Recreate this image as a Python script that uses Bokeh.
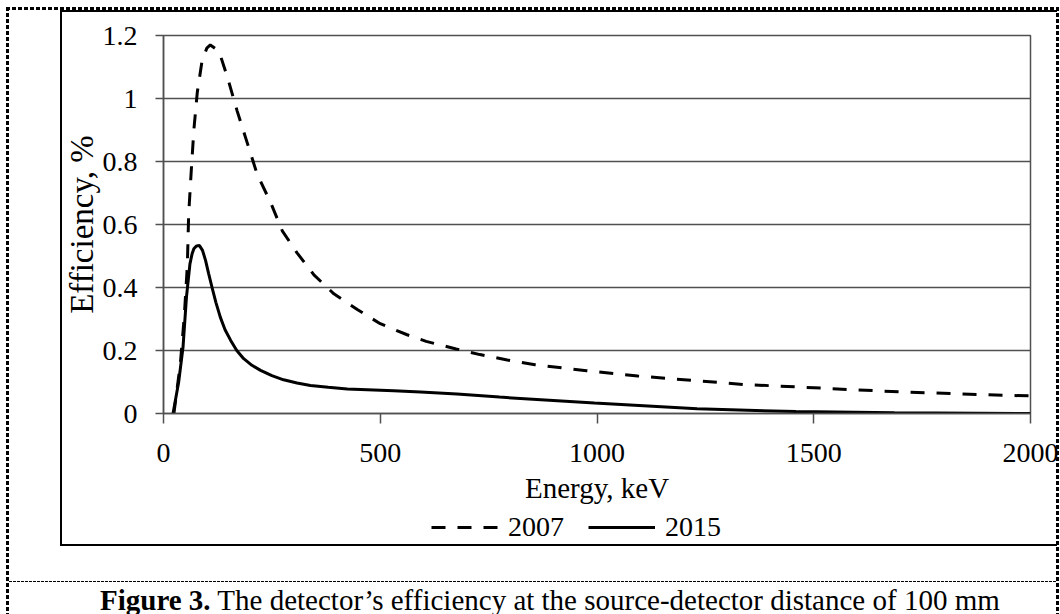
from bokeh.plotting import figure
from bokeh.layouts import column
from bokeh.models import (Range1d, FixedTicker, Legend, LegendItem, Div,
                          InlineStyleSheet)
from bokeh.embed import file_html
from bokeh.resources import INLINE

# ---- data ----
energy_2007 = [24, 39, 48, 55, 58, 64, 70, 78, 89, 100, 108, 128, 147, 170, 193, 216,
               247, 274, 308, 347, 393, 447, 500, 562, 606, 675, 730, 793, 857, 976,
               1094, 1222, 1340, 1468, 1596, 1714, 1842, 1961, 2000]
eff_2007 = [0.0, 0.16, 0.31, 0.47, 0.63, 0.77, 0.90, 1.02, 1.12, 1.16, 1.17, 1.15, 1.07,
            0.96, 0.86, 0.76, 0.67, 0.58, 0.51, 0.44, 0.38, 0.33, 0.285, 0.25, 0.229,
            0.205, 0.187, 0.17, 0.155, 0.136, 0.119, 0.105, 0.092, 0.084, 0.075, 0.068,
            0.062, 0.057, 0.056]
energy_2015 = [22, 35, 45, 53, 61, 66, 70, 76, 83, 90, 97, 104, 112, 121, 131, 142, 155,
               169, 185, 204, 224, 250, 277, 308, 339, 380, 424, 531, 593, 677, 775, 994,
               1231, 1459, 1686, 2000]
eff_2015 = [0.0, 0.10, 0.21, 0.37, 0.475, 0.507, 0.523, 0.532, 0.533, 0.518, 0.486,
            0.445, 0.40, 0.352, 0.306, 0.266, 0.232, 0.2, 0.174, 0.153, 0.137, 0.12, 0.107,
            0.097, 0.089, 0.083, 0.078, 0.072, 0.068, 0.062, 0.052, 0.033, 0.015, 0.006,
            0.002, 0.0]
series_names = ["2007", "2015"]
x_ticks = [0, 500, 1000, 1500, 2000]
y_ticks = [0, 0.2, 0.4, 0.6, 0.8, 1.0, 1.2]
y_tick_labels = ["0", "0.2", "0.4", "0.6", "0.8", "1", "1.2"]
x_title = "Energy, keV"
y_title = "Efficiency, %"
caption_bold = "Figure 3."
caption_rest = "The detector\u2019s efficiency at the source-detector distance of 100 mm"

FONT = "Liberation Serif"
W = 1060
H_MAIN, H_LEG, H_CAP = 507, 73, 34
GRID = "#505050"

DASH_V = "repeating-linear-gradient(to bottom, #000 0px, #000 4px, transparent 4px, transparent 6px)"
DASH_H = "repeating-linear-gradient(to right, #000 0px, #000 4px, transparent 4px, transparent 6px)"
FINE_H = "repeating-linear-gradient(to right, #000 0px, #000 3px, transparent 3px, transparent 4px)"
SOLID = "linear-gradient(#000, #000)"
H_ALL = H_MAIN + H_LEG + H_CAP

# page decoration: dashed outer frame, solid chart box, fine dashed caption rule
page_css = f"""
:host {{ position: relative; }}
:host::after {{
  content: ""; position: absolute; left: 0; top: 0; width: {W}px; height: {H_ALL}px;
  pointer-events: none; z-index: 1000;
  background:
    {SOLID} 60px 10px / 2px 536px no-repeat,
    {SOLID} 60px 10px / 997px 2px no-repeat,
    {SOLID} 60px 544px / 997px 2px no-repeat,
    {DASH_V} 6px 7px / 3px {H_ALL - 7}px no-repeat,
    {DASH_V} 1056px 7px / 3px {H_ALL - 7}px no-repeat,
    {DASH_H} 6px 7px / 1053px 3px no-repeat,
    {FINE_H} 9px 581px / 1047px 1px no-repeat;
}}
"""

p = figure(width=W, height=H_MAIN, output_backend="svg", toolbar_location=None,
           x_range=Range1d(0, 2000), y_range=Range1d(0, 1.2),
           min_border_left=163, min_border_right=30, min_border_top=35,
           min_border_bottom=H_MAIN - 413)
p.background_fill_color = "white"
p.border_fill_color = "white"
p.outline_line_color = GRID
p.outline_line_width = 1.5

p.xgrid.visible = False
p.ygrid.ticker = FixedTicker(ticks=y_ticks)
p.ygrid.grid_line_color = GRID
p.ygrid.grid_line_width = 1.5

xa = p.xaxis[0]
xa.ticker = FixedTicker(ticks=x_ticks)
xa.axis_label = x_title
xa.axis_label_text_font = FONT
xa.axis_label_text_font_size = "29px"
xa.axis_label_text_font_style = "normal"
xa.axis_label_text_color = "black"
xa.axis_label_standoff = 7
xa.major_label_text_font = FONT
xa.major_label_text_font_size = "28px"
xa.major_label_text_color = "black"
xa.major_label_standoff = 20
xa.major_tick_out = 10
xa.major_tick_in = 0
xa.major_tick_line_color = GRID
xa.major_tick_line_width = 1.5
xa.minor_tick_line_color = None
xa.axis_line_color = GRID
xa.axis_line_width = 1.5

ya = p.yaxis[0]
ya.ticker = FixedTicker(ticks=y_ticks)
ya.major_label_overrides = dict(zip(y_ticks, y_tick_labels))
ya.axis_label = y_title
ya.axis_label_text_font = FONT
ya.axis_label_text_font_size = "33px"
ya.axis_label_text_font_style = "normal"
ya.axis_label_text_color = "black"
ya.axis_label_standoff = 0
ya.major_label_text_font = FONT
ya.major_label_text_font_size = "28px"
ya.major_label_text_color = "black"
ya.major_label_standoff = 18
ya.major_tick_out = 8
ya.major_tick_in = 0
ya.major_tick_line_color = GRID
ya.major_tick_line_width = 1.5
ya.minor_tick_line_color = None
ya.axis_line_color = GRID
ya.axis_line_width = 1.5

STYLE_2007 = dict(line_color="black", line_width=3, line_dash="14 12")
STYLE_2015 = dict(line_color="black", line_width=3)
p.line(energy_2007, eff_2007, **STYLE_2007)
p.line(energy_2015, eff_2015, **STYLE_2015)

# ---- legend strip: the same series, scrolled out of its view, only keys show ----
leg = figure(width=W, height=H_LEG, output_backend="svg", toolbar_location=None,
             x_range=Range1d(0, 2000), y_range=Range1d(5, 6),
             x_axis_type=None, y_axis_type=None, min_border=0,
             min_border_top=0, min_border_bottom=0)
leg.outline_line_color = None
leg.background_fill_color = "white"
leg.border_fill_color = "white"
k1 = leg.line(energy_2007, eff_2007, **STYLE_2007)
k2 = leg.line(energy_2015, eff_2015, **STYLE_2015)
legend = Legend(items=[LegendItem(label=series_names[0], renderers=[k1]),
                       LegendItem(label=series_names[1], renderers=[k2])],
                orientation="horizontal", location=(268, 37),
                label_text_font=FONT, label_text_font_size="28px",
                label_text_color="black",
                glyph_width=67, glyph_height=30,
                label_standoff=10, spacing=24, padding=0, margin=0,
                border_line_color=None, background_fill_alpha=0)
leg.add_layout(legend)

# ---- caption strip (real HTML text) ----
caption_html = (
    f'<div style="position:absolute; left:95px; top:1px; white-space:nowrap; '
    f'font-family:\'{FONT}\'; font-size:29px; line-height:29px; color:black;">'
    f'<b>{caption_bold}</b> {caption_rest}</div>'
)
cap = Div(text=caption_html, width=W, height=H_CAP,
          stylesheets=[InlineStyleSheet(css=":host { position: relative; }")])

layout = column(p, leg, cap, spacing=0,
                stylesheets=[InlineStyleSheet(css=page_css)])
open("out.html", "w").write(file_html(layout, INLINE))
